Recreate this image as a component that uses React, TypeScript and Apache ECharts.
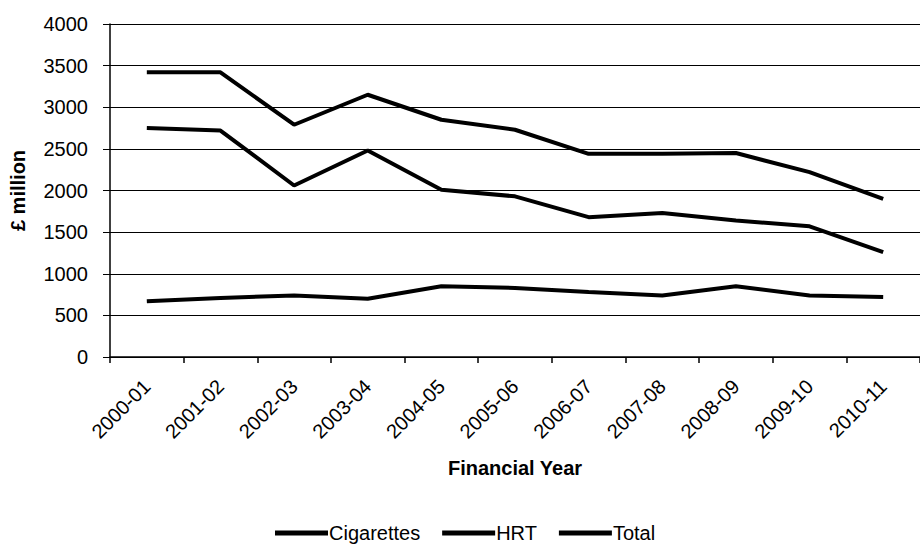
import React, { useEffect, useRef } from "react";
import * as echarts from "echarts";

const categories = [
  "2000-01", "2001-02", "2002-03", "2003-04", "2004-05", "2005-06",
  "2006-07", "2007-08", "2008-09", "2009-10", "2010-11",
];
const cigarettes = [2750, 2720, 2060, 2480, 2010, 1930, 1680, 1730, 1640, 1570, 1260];
const hrt = [670, 710, 740, 700, 850, 830, 780, 740, 850, 740, 720];
const total = [3420, 3420, 2790, 3150, 2850, 2730, 2440, 2440, 2450, 2220, 1900];
const yTicks = { min: 0, max: 4000, interval: 500 };

const FONT = "'Liberation Sans', Arial, sans-serif";

export default function App() {
  const ref = useRef<HTMLDivElement>(null);
  useEffect(() => {
    if (!ref.current) return;
    const chart = echarts.init(ref.current, undefined, { renderer: "svg" });
    const lineSeries = (name: string, data: number[]) => ({
      name,
      type: "line",
      data,
      symbol: "none",
      lineStyle: { color: "#000", width: 4 },
      itemStyle: { color: "#000" },
    });
    chart.setOption({
      animation: false,
      backgroundColor: "#fff",
      textStyle: { fontFamily: FONT, color: "#000" },
      grid: { left: 108, top: 24, width: 825, height: 333, containLabel: false },
      legend: {
        data: ["Cigarettes", "HRT", "Total"],
        left: 270,
        top: 518,
        icon: "rect",
        itemWidth: 53,
        itemHeight: 5,
        itemGap: 22,
        textStyle: { fontFamily: FONT, fontSize: 20, color: "#000", padding: [0, 0, 0, -4] },
      },
      xAxis: {
        type: "category",
        data: categories,
        boundaryGap: true,
        name: "Financial Year",
        nameLocation: "middle",
        nameGap: 101,
        nameTextStyle: { fontFamily: FONT, fontSize: 20, fontWeight: "bold", color: "#000" },
        axisLine: { lineStyle: { color: "#000", width: 1.5 } },
        axisTick: { show: true, length: 6, lineStyle: { color: "#000", width: 1.5 } },
        axisLabel: { rotate: 45, margin: 26, fontFamily: FONT, fontSize: 20, color: "#000", interval: 0 },
        splitLine: { show: false },
      },
      yAxis: {
        type: "value",
        min: yTicks.min,
        max: yTicks.max,
        interval: yTicks.interval,
        name: "£ million",
        nameLocation: "middle",
        nameGap: 82,
        nameTextStyle: { fontFamily: FONT, fontSize: 20, fontWeight: "bold", color: "#000" },
        axisLine: { show: true, lineStyle: { color: "#000", width: 1.5 } },
        axisTick: { show: true, length: 7, lineStyle: { color: "#000", width: 1 } },
        axisLabel: {
          margin: 22,
          fontFamily: FONT,
          fontSize: 20,
          color: "#000",
          formatter: (v: number) => String(v),
        },
        splitLine: { show: true, lineStyle: { color: "#000", width: 1 } },
      },
      series: [
        lineSeries("Cigarettes", cigarettes),
        lineSeries("HRT", hrt),
        lineSeries("Total", total),
      ],
    });
    return () => chart.dispose();
  }, []);
  return (
    <div
      ref={ref}
      style={{ position: "fixed", left: 0, top: 0, width: 920, height: 544, background: "#fff" }}
    />
  );
}
